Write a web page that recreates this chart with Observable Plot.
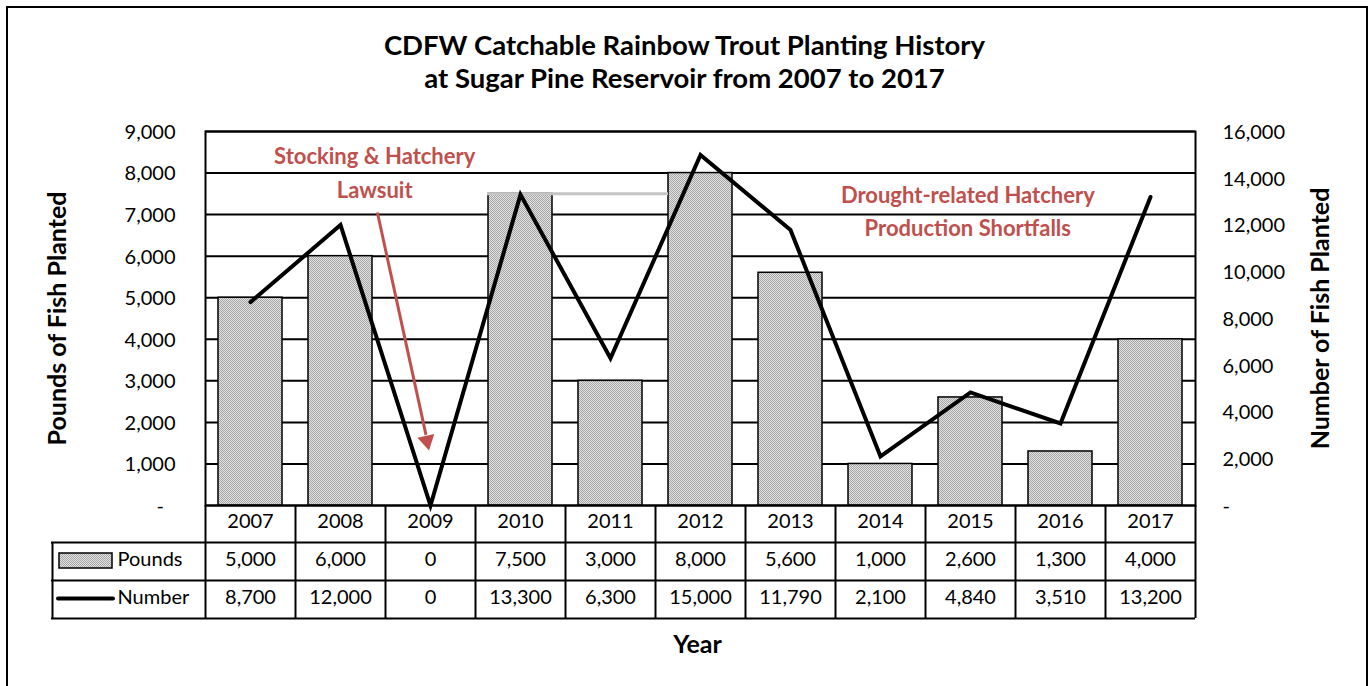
<!DOCTYPE html>
<html><head><meta charset="utf-8">
<script src="https://cdn.jsdelivr.net/npm/d3@7"></script>
<script src="https://cdn.jsdelivr.net/npm/@observablehq/plot@0.6"></script>
<style>
body{margin:0;background:#fff;}
#page{position:relative;width:1369px;height:686px;overflow:hidden;font-family:Lato,sans-serif;background:#fff;}
#border{position:absolute;left:6px;top:6px;width:1362px;height:700px;border:2px solid #000;box-sizing:border-box;pointer-events:none}
#title{height:110px;box-sizing:border-box;padding-top:28px;text-align:center;font-weight:700;font-size:27.5px;line-height:33px;color:#000}
svg{display:block}
</style></head><body>
<div id="page"><div id="title">CDFW Catchable Rainbow Trout Planting History<br>at Sugar Pine Reservoir from 2007 to 2017</div><div id="chart"></div><div id="border"></div></div>
<script>
const years = [2007, 2008, 2009, 2010, 2011, 2012, 2013, 2014, 2015, 2016, 2017];
const pounds = [5000, 6000, 0, 7500, 3000, 8000, 5600, 1000, 2600, 1300, 4000];
const numbers = [8700, 12000, 0, 13300, 6300, 15000, 11790, 2100, 4840, 3510, 13200];
const poundTicks = [0, 1000, 2000, 3000, 4000, 5000, 6000, 7000, 8000, 9000];
const numberTicks = [0, 2000, 4000, 6000, 8000, 10000, 12000, 14000, 16000];
const seriesNames = ["Pounds", "Number"];
const notes = [
  {text: "Stocking & Hatchery", x: 2008.38, y: 8380},
  {text: "Lawsuit", x: 2008.38, y: 7580},
  {text: "Drought-related Hatchery", x: 2014.97, y: 7440},
  {text: "Production Shortfalls", x: 2014.97, y: 6650}
];
// arrow shaft from (x1,y1) to head base (x2,y2); head centred at (hx,hy)
const arrows = [{x1: 2008.41, y1: 7050, x2: 2008.95, y2: 1700, hx: 2008.96, hy: 1560}];
const connectors = [{from: 2010, to: 2012, value: 7500}];

const k = 9000 / 16000; // right axis (number) mapped onto left axis (pounds)
const data = years.map((year, i) => ({year, pounds: pounds[i], number: numbers[i]}));
const fmt = d3.format(",");
const red = "#c0504d";
const edges = years.map(y => y - 0.5).concat([years[years.length - 1] + 0.5]);
const frameH = 374;
const F = 20;

const stipple = () => {
  const defs = d3.create("svg:defs");
  const p = defs.append("pattern").attr("id", "stipple").attr("width", 2).attr("height", 2).attr("patternUnits", "userSpaceOnUse");
  p.append("rect").attr("width", 2).attr("height", 2).attr("fill", "#e2e2e2");
  p.append("rect").attr("width", 1).attr("height", 1).attr("fill", "#a6a6a6");
  p.append("rect").attr("x", 1).attr("y", 1).attr("width", 1).attr("height", 1).attr("fill", "#a6a6a6");
  return defs.node();
};

const plot = Plot.plot({
  width: 1369, height: 576,
  marginTop: 21, marginBottom: 181, marginLeft: 205, marginRight: 174,
  style: {fontFamily: "Lato, sans-serif", color: "#000", background: "transparent"},
  x: {domain: [2006.5, 2017.5], axis: null},
  y: {domain: [0, 9000], axis: null, label: null},
  marks: [
    stipple,
    Plot.gridY(poundTicks, {stroke: "#000", strokeOpacity: 1, strokeWidth: 2}),
    Plot.rectY(data.filter(d => d.pounds > 0), {x1: d => d.year - 0.5, x2: d => d.year + 0.5, y: "pounds", insetLeft: 13, insetRight: 13, fill: "url(#stipple)", stroke: "#000", strokeWidth: 1.5}),
    Plot.ruleY(connectors, {y: "value", x1: d => d.from - 0.5, x2: d => d.to - 0.5, insetLeft: 12, insetRight: -13, stroke: "url(#stipple)", strokeWidth: 3}),
    Plot.frame({stroke: "#000", strokeWidth: 2}),
    Plot.line(data, {x: "year", y: d => d.number * k, stroke: "#000", strokeWidth: 4, strokeLinejoin: "miter", strokeMiterlimit: 6}),
    Plot.axisY(poundTicks, {anchor: "left", tickSize: 0, tickPadding: 30, label: null, fontSize: F, dy: 1, tickFormat: d => d === 0 ? "-\u2007" : fmt(d)}),
    Plot.axisY(numberTicks.map(v => v * k), {anchor: "right", tickSize: 0, tickPadding: 27, label: null, fontSize: F, dy: 1, tickFormat: v => { const n = Math.round(v / k); return n === 0 ? "-" : fmt(n); }}),
    // annotations
    Plot.text(notes, {x: "x", y: "y", text: "text", fill: red, fontWeight: "bold", fontSize: 22}),
    Plot.link(arrows, {x1: "x1", y1: "y1", x2: "x2", y2: "y2", stroke: red, strokeWidth: 3}),
    Plot.dot(arrows, {x: "hx", y: "hy", symbol: "triangle", r: 6.4, fill: red, stroke: null, rotate: 167.6}),
    // data table grid
    Plot.ruleX(edges, {x: d => d, stroke: "#000", strokeWidth: 2, insetTop: frameH, insetBottom: -113}),
    Plot.ruleX([2006.5], {x: d => d, dx: -153, stroke: "#000", strokeWidth: 2, insetTop: frameH + 37, insetBottom: -113}),
    Plot.ruleY([0], {dy: 37, insetLeft: -154, stroke: "#000", strokeWidth: 2}),
    Plot.ruleY([0], {dy: 75, insetLeft: -154, stroke: "#000", strokeWidth: 2}),
    Plot.ruleY([0], {dy: 113, insetLeft: -154, stroke: "#000", strokeWidth: 2}),
    // data table text
    Plot.text(data, {x: "year", text: d => String(d.year), frameAnchor: "bottom", dy: 22, fontSize: F}),
    Plot.text(data, {x: "year", text: d => fmt(d.pounds), frameAnchor: "bottom", dy: 60, fontSize: F}),
    Plot.text(data, {x: "year", text: d => fmt(d.number), frameAnchor: "bottom", dy: 98, fontSize: F}),
    // legend keys in table
    Plot.rect([0], {insetLeft: -146, insetRight: 1083, insetTop: 422, insetBottom: -63, fill: "url(#stipple)", stroke: "#000", strokeWidth: 1.5}),
    Plot.ruleY([0], {dy: 93, insetLeft: -147, insetRight: 1082, stroke: "#000", strokeWidth: 4, strokeLinecap: "round"}),
    Plot.text([seriesNames[0]], {text: d => d, frameAnchor: "bottom-left", dx: -88, dy: 60, textAnchor: "start", fontSize: F}),
    Plot.text([seriesNames[1]], {text: d => d, frameAnchor: "bottom-left", dx: -88, dy: 98, textAnchor: "start", fontSize: F}),
    // axis titles
    Plot.text(["Pounds of Fish Planted"], {text: d => d, frameAnchor: "left", dx: -148, rotate: -90, textAnchor: "middle", fontWeight: "bold", fontSize: 25}),
    Plot.text(["Number of Fish Planted"], {text: d => d, frameAnchor: "right", dx: 125, rotate: -90, textAnchor: "middle", fontWeight: "bold", fontSize: 25}),
    Plot.text(["Year"], {text: d => d, frameAnchor: "bottom", dx: -3, dy: 147, fontWeight: "bold", fontSize: 25})
  ]
});
document.getElementById("chart").appendChild(plot);
</script>
</body></html>
